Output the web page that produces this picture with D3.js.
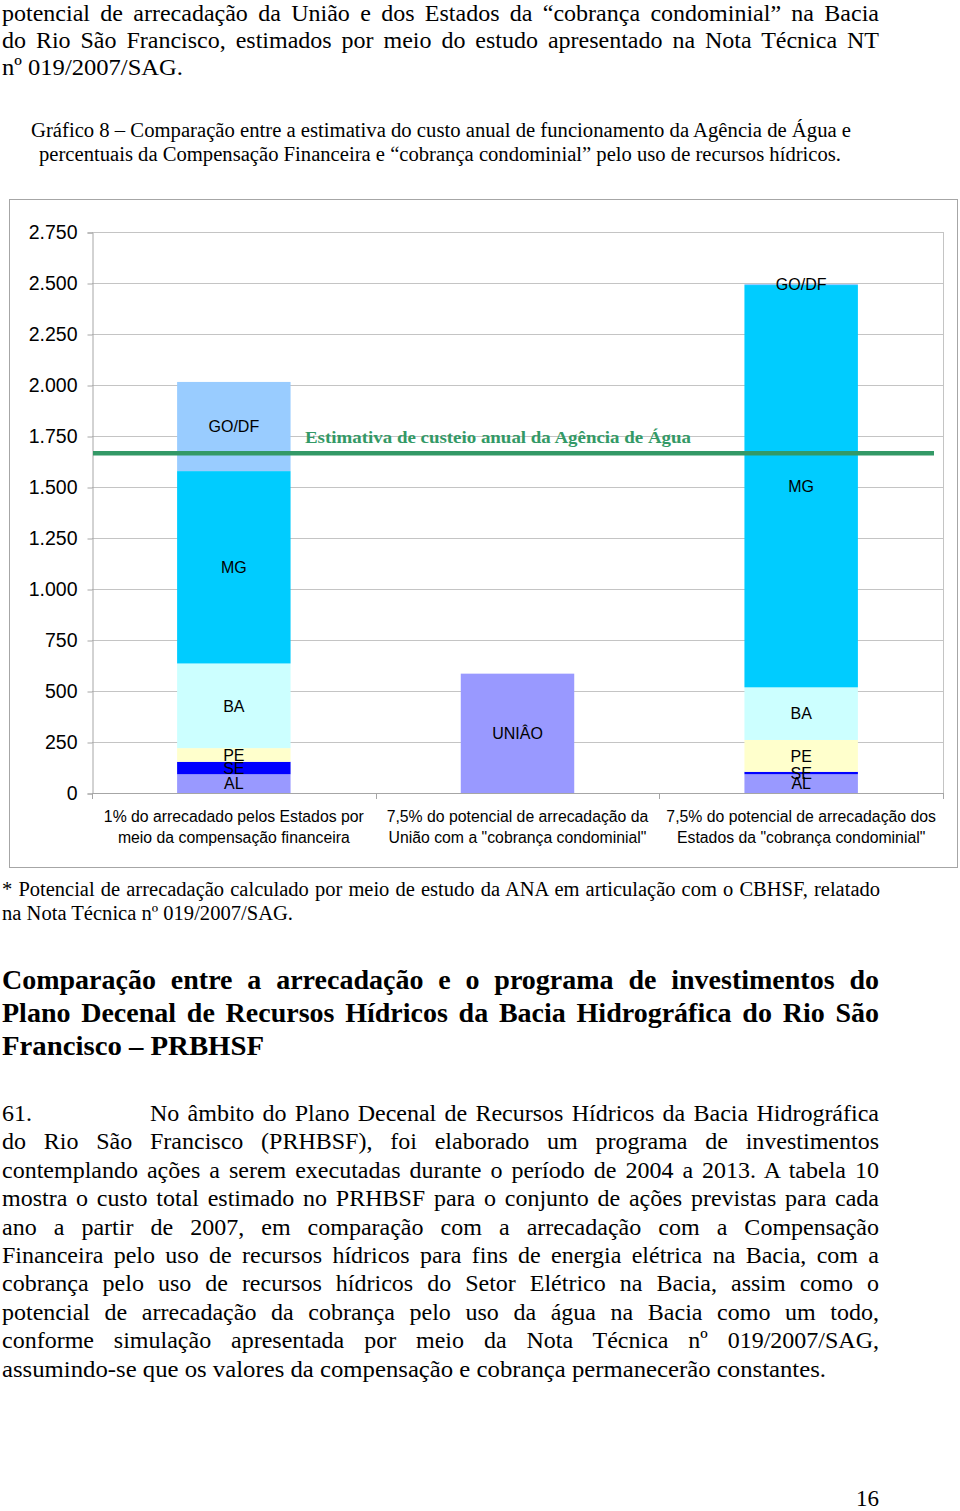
<!DOCTYPE html>
<html>
<head>
<meta charset="utf-8">
<script src="https://cdn.jsdelivr.net/npm/d3@7"></script>
<style>
  html, body { margin: 0; padding: 0; background: #fff; }
  svg { display: block; }
</style>
</head>
<body>
<svg id="page" width="960" height="1511"></svg>
<script>
// ---------------- DATA ----------------
const categories = ["compensacaoEstados", "cobrancaUniao", "cobrancaEstados"];
const categoryLabels = [
  ["1% do arrecadado pelos Estados por", "meio da compensação financeira"],
  ["7,5% do potencial de arrecadação da", "União com a \"cobrança condominial\""],
  ["7,5% do potencial de arrecadação dos", "Estados da \"cobrança condominial\""]
];
const stateSegments = ["AL", "SE", "PE", "BA", "MG", "GO/DF"];
const compensacaoEstados = [92, 61, 67, 415, 943, 437];
const cobrancaEstados = [92, 12, 156, 258, 1972, 5];
const uniaoSegments = ["UNIÂO"];
const cobrancaUniao = [585];
const custeioAgencia = 1665;
const custeioLabel = "Estimativa de custeio anual da Agência de Água";
const yTicks = [0, 250, 500, 750, 1000, 1250, 1500, 1750, 2000, 2250, 2500, 2750];

const segmentColors = {
  "AL": "#9999ff", "SE": "#0000ff", "PE": "#ffffcc", "BA": "#ccffff",
  "MG": "#00ccff", "GO/DF": "#99ccff", "UNIÂO": "#9999ff"
};

// page text
const introLines = [
  "potencial de arrecadação da União e dos Estados da “cobrança condominial” na Bacia",
  "do Rio São Francisco, estimados por meio do estudo apresentado na Nota Técnica NT",
  "nº 019/2007/SAG."
];
const captionLines = [
  "Gráfico 8 – Comparação entre a estimativa do custo anual de funcionamento da Agência de Água e",
  "percentuais da Compensação Financeira e “cobrança condominial” pelo uso de recursos hídricos."
];
const footnoteLines = [
  "* Potencial de arrecadação calculado por meio de estudo da ANA em articulação com o CBHSF, relatado",
  "na Nota Técnica nº 019/2007/SAG."
];
const headingLines = [
  "Comparação entre a arrecadação e o programa de investimentos do",
  "Plano Decenal de Recursos Hídricos da Bacia Hidrográfica do Rio São",
  "Francisco – PRBHSF"
];
const paragraphNumber = "61.";
const paragraphLines = [
  "No âmbito do Plano Decenal de Recursos Hídricos da Bacia Hidrográfica",
  "do Rio São Francisco (PRHBSF), foi elaborado um programa de investimentos",
  "contemplando ações a serem executadas durante o período de 2004 a 2013. A tabela 10",
  "mostra o custo total estimado no PRHBSF para o conjunto de ações previstas para cada",
  "ano a partir de 2007, em comparação com a arrecadação com a Compensação",
  "Financeira pelo uso de recursos hídricos para fins de energia elétrica na Bacia, com a",
  "cobrança pelo uso de recursos hídricos do Setor Elétrico na Bacia, assim como o",
  "potencial de arrecadação da cobrança pelo uso da água na Bacia como um todo,",
  "conforme simulação apresentada por meio da Nota Técnica nº 019/2007/SAG,",
  "assumindo-se que os valores da compensação e cobrança permanecerão constantes."
];
const pageNumber = "16";

// ---------------- DRAW ----------------
const svg = d3.select("#page");
const serif = "'Liberation Serif', 'Times New Roman', serif";
const sans = "'Liberation Sans', Arial, sans-serif";

function textLine(str, x, y, opts) {
  const t = svg.append("text")
    .attr("x", x).attr("y", y)
    .attr("font-family", opts.family || serif)
    .attr("font-size", opts.size)
    .attr("font-weight", opts.weight || "normal")
    .attr("fill", opts.fill || "#000")
    .text(str);
  if (opts.width) {
    const w = t.node().getComputedTextLength();
    const spaces = (str.match(/ /g) || []).length;
    if (opts.justify && spaces > 0 && w < opts.width) {
      t.attr("word-spacing", (opts.width - w) / spaces);
    } else {
      t.attr("textLength", opts.width).attr("lengthAdjust", "spacingAndGlyphs");
    }
  }
  return t;
}

// intro
const introBase = [21, 48, 75];
introLines.forEach((s, i) => textLine(s, 2, introBase[i], {
  size: 24, width: i < 2 ? 877 : 181, justify: i < 2
}));
// caption
textLine(captionLines[0], 31, 137, { size: 20, width: 820 });
textLine(captionLines[1], 39, 161, { size: 20, width: 802 });

// chart box
svg.append("rect").attr("x", 9.5).attr("y", 199.5).attr("width", 948).attr("height", 668)
  .attr("fill", "#fff").attr("stroke", "#a6a6a6").attr("stroke-width", 1);

const plotL = 92, plotR = 943, plotT = 232, plotB = 793;
const y = d3.scaleLinear().domain([0, 2750]).range([plotB, plotT]);
const x = d3.scaleBand().domain(categories).range([plotL, plotR])
  .paddingInner(0.6).paddingOuter(0.3);
const step = x.step();

const locale = d3.formatLocale({ decimal: ",", thousands: ".", grouping: [3], currency: ["", ""] });
const fmt = locale.format(",");

// gridlines
svg.append("g").selectAll("line").data(yTicks).join("line")
  .attr("x1", plotL).attr("x2", plotR)
  .attr("y1", d => Math.round(y(d)) + 0.5).attr("y2", d => Math.round(y(d)) + 0.5)
  .attr("stroke", "#c4c4c4").attr("stroke-width", 1);
// right border
svg.append("line").attr("x1", plotR + 0.5).attr("x2", plotR + 0.5)
  .attr("y1", plotT).attr("y2", plotB).attr("stroke", "#c4c4c4");

// y axis
const yAxis = svg.append("g").attr("transform", `translate(${plotL + 0.5},0.5)`)
  .call(d3.axisLeft(y).tickValues(yTicks).tickFormat(fmt).tickSize(5).tickPadding(10));
yAxis.select(".domain").attr("stroke", "#a6a6a6");
yAxis.selectAll(".tick line").attr("stroke", "#a6a6a6");
yAxis.selectAll(".tick text").attr("font-family", sans).attr("font-size", 19.5).attr("fill", "#000");

// x axis (ticks at category boundaries)
const xAxisG = svg.append("g");
xAxisG.append("line").attr("x1", plotL).attr("x2", plotR)
  .attr("y1", plotB + 0.5).attr("y2", plotB + 0.5).attr("stroke", "#a6a6a6");
const boundaries = categories.map(c => x(c) - step * x.paddingOuter()).concat([plotR]);
xAxisG.selectAll("line.b").data(boundaries).join("line").attr("class", "b")
  .attr("x1", d => Math.round(d) + 0.5).attr("x2", d => Math.round(d) + 0.5)
  .attr("y1", plotB).attr("y2", plotB + 6).attr("stroke", "#a6a6a6");

// stacked bars
function stackFrom(names, values) {
  let acc = 0;
  return names.map((n, i) => { const o = { name: n, y0: acc, y1: acc + values[i] }; acc += values[i]; return o; });
}
const barData = [
  { cat: categories[0], segs: stackFrom(stateSegments, compensacaoEstados) },
  { cat: categories[1], segs: stackFrom(uniaoSegments, cobrancaUniao) },
  { cat: categories[2], segs: stackFrom(stateSegments, cobrancaEstados) }
];
const barsG = svg.append("g");
barData.forEach(b => {
  barsG.selectAll(null).data(b.segs).join("rect")
    .attr("x", x(b.cat)).attr("width", x.bandwidth())
    .attr("y", d => y(d.y1)).attr("height", d => y(d.y0) - y(d.y1))
    .attr("fill", d => segmentColors[d.name]);
});

// reference line
svg.append("line").attr("x1", plotL + 1).attr("x2", 934)
  .attr("y1", y(custeioAgencia)).attr("y2", y(custeioAgencia))
  .attr("stroke", "#339966").attr("stroke-width", 4.5);
textLine(custeioLabel, 305, 443, { size: 17, weight: "bold", fill: "#339966", width: 386 });

// segment labels
barData.forEach(b => {
  svg.append("g").selectAll("text").data(b.segs).join("text")
    .attr("x", x(b.cat) + x.bandwidth() / 2)
    .attr("y", d => (y(d.y0) + y(d.y1)) / 2)
    .attr("dy", "0.36em")
    .attr("text-anchor", "middle")
    .attr("font-family", sans).attr("font-size", 16).attr("fill", "#000")
    .text(d => d.name);
});

// category labels
categories.forEach((c, i) => {
  categoryLabels[i].forEach((s, j) => {
    svg.append("text")
      .attr("x", x(c) + x.bandwidth() / 2).attr("y", 816 + j * 21).attr("dy", "0.36em")
      .attr("text-anchor", "middle").attr("font-family", sans).attr("font-size", 15.8)
      .attr("fill", "#000").text(s);
  });
});

// footnote
textLine(footnoteLines[0], 2, 896, { size: 20.5, width: 878, justify: true });
textLine(footnoteLines[1], 2, 920, { size: 20.5, width: 291 });

// heading
const headBase = [989, 1022, 1055];
headingLines.forEach((s, i) => textLine(s, 2, headBase[i], {
  size: 28, weight: "bold", width: i < 2 ? 877 : 262, justify: i < 2
}));

// paragraph
textLine(paragraphNumber, 2, 1121, { size: 24 });
paragraphLines.forEach((s, i) => {
  const last = i === paragraphLines.length - 1;
  const x0 = i === 0 ? 150 : 2;
  textLine(s, x0, 1121 + i * 28.4, {
    size: 24, width: last ? 824 : 879 - x0, justify: !last
  });
});

// page number
textLine(pageNumber, 856, 1506, { size: 24, width: 23 });
</script>
</body>
</html>
